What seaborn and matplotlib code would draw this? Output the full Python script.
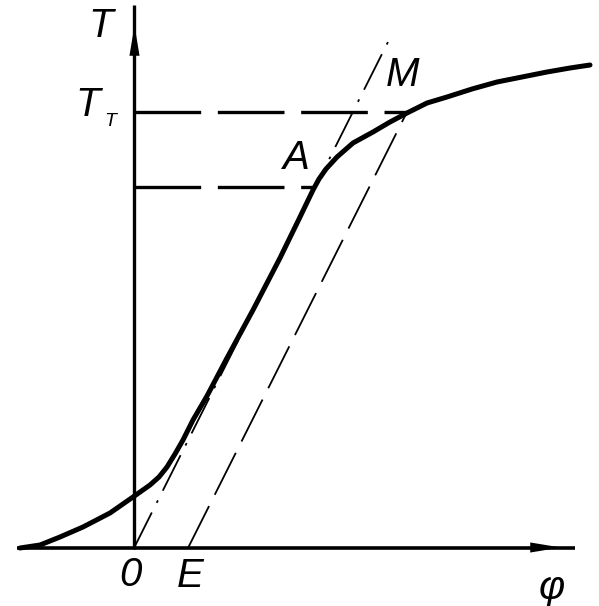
import matplotlib
matplotlib.use("Agg")
import matplotlib.pyplot as plt
import seaborn as sns
import pandas as pd

sns.set_style("white")
plt.rcParams['font.family'] = ['Liberation Sans', 'DejaVu Sans']

# Curve T(phi), schematic units (origin at 0)
phi_curve = [-114, -94, -74, -51, -24, -1, 16, 25, 33, 41, 49, 59, 73, 93, 119, 146, 166, 179,
             185, 192, 203, 219, 239, 256, 273, 293, 313, 338, 363, 388, 413, 436, 456]
T_curve = [0, 3, 11, 21, 35, 51, 63, 71, 81, 94, 108, 128, 152, 190, 238, 290, 331, 358,
           369, 379, 391, 405, 416, 426, 435, 445, 451, 459, 466, 471, 476, 480, 483]

# characteristic points
phi_A, T_A = 179, 361
phi_M, T_M = 273, 436
phi_E = 54
# line through origin and A, extended
phi_tan_end, T_tan_end = 256, 510

df = pd.DataFrame({"phi": phi_curve, "T": T_curve})

fig = plt.figure(figsize=(5.99, 6.06), dpi=100)
ax = fig.add_axes([0, 0, 1, 1])
ax.set_xlim(-134, 465)
ax.set_ylim(-58, 548)
ax.axis("off")

# axes with arrows
ax.plot([0, 0], [-1, 543], color="black", lw=2.4, solid_capstyle="butt")
ax.plot([-117, 441], [0, 0], color="black", lw=2.6, solid_capstyle="butt")
up = [(0, 1), (-0.33, -1), (0.33, -1), (0, 1)]
right = [(1, 0), (-1, 0.33), (-1, -0.33), (1, 0)]
ax.plot([0], [508], marker=up, color="black", markersize=22, markeredgewidth=0)
ax.plot([411], [1], marker=right, color="black", markersize=22, markeredgewidth=0)

# main curve
sns.lineplot(data=df, x="phi", y="T", sort=False, color="black", lw=3.6, ax=ax)
for ln in ax.lines[-1:]:
    ln.set_solid_capstyle("round")
    ln.set_solid_joinstyle("round")

# horizontal dashed lines
ax.plot([0, phi_M], [T_M, T_M], color="black", lw=2.4, dashes=(20, 5))
ax.plot([0, phi_A], [T_A, T_A], color="black", lw=2.4, dashes=(20, 5))

# line through origin (dash-dot) and parallel through E (dashed)
ax.plot([0, phi_tan_end], [0, T_tan_end], color="black", lw=1.3, dashes=(22, 6, 1.5, 6))
ax.plot([phi_E, phi_M], [0, T_M], color="black", lw=1.3, dashes=(26, 7))

fs = 29
kw = dict(style="italic", color="black", fontsize=fs, ha="center", va="center")
ax.text(-33, 522, "T", **kw)
ax.text(-46, 443, "T", **kw)
ax.text(-24, 426, "T", style="italic", color="black", fontsize=14, ha="center", va="center")
ax.text(162, 390, "A", **kw)
ax.text(269, 473, "M", **kw)
ax.text(-4, -27, "0", **kw)
ax.text(56, -28, "E", **kw)
ax.text(418, -40, "φ", **kw)

fig.savefig("out.png", dpi=100)
